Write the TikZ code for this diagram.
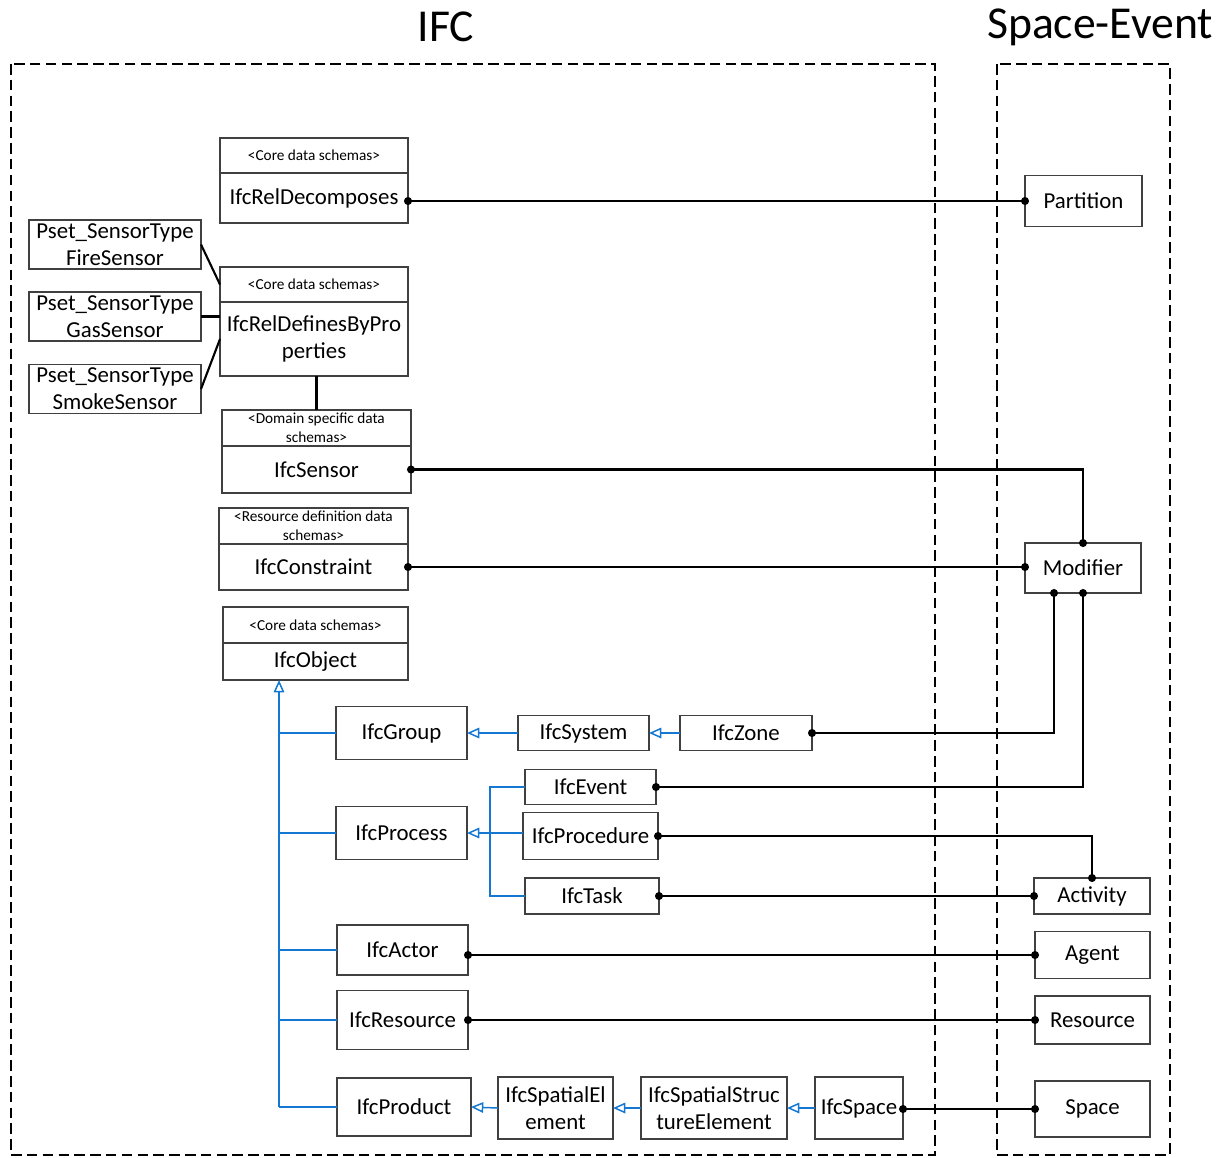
\documentclass[tikz,border=0pt]{standalone}
\usepackage{fontspec}
\setmainfont{Carlito}
\usetikzlibrary{positioning,arrows.meta}
\definecolor{genblue}{RGB}{20,120,210}
\begin{document}
\begin{tikzpicture}[x=0.02cm, y=-0.02cm, sz/.style 2 args={minimum width=#1*0.02cm, minimum height=#2*0.02cm}]
    \tikzstyle{box} = [rectangle, draw=black!75, line width=0.7pt, inner sep=0pt, outer sep=0pt, align=center, font=\fontsize{13}{15.3}\selectfont]
    \tikzstyle{hdr} = [box, font=\fontsize{8.7}{10.8}\selectfont]
    \tikzstyle{title} = [font=\fontsize{26}{30}\selectfont]
    \tikzstyle{frame} = [line width=1.4pt, dash pattern=on 6pt off 3pt]
    \tikzstyle{link} = [line width=1.2pt, {Circle[length=4.5pt]}-{Circle[length=4.5pt]}, shorten <=-2.25pt, shorten >=-2.25pt]
    \tikzstyle{plain} = [line width=1.2pt]
    \tikzstyle{bus} = [genblue, line width=0.85pt]
    \tikzstyle{gen} = [bus, -{Triangle[open, length=7pt, width=6pt]}]

    \useasboundingbox (0,0) rectangle (1226,1157);
    \draw [frame] (11,64) rectangle (935,1155);
    \draw [frame] (997,64) rectangle (1170,1155);
    \node [title] (ifctitle) at (446,27) {IFC};
    \node [title] (setitle) at (1100,27) {Space-Event};

    \node [hdr, sz={188}{35}] (reldech) at (314,155.5) {<Core data schemas>};
    \node [box, sz={188}{50}, below=0pt of reldech] (reldecb) {IfcRelDecomposes};
    \node [hdr, sz={188}{35}] (reldefh) at (314,284.5) {<Core data schemas>};
    \node [box, sz={188}{74}, below=0pt of reldefh] (reldefb) {IfcRelDefinesByPro\\perties};
    \node [hdr, sz={189}{36}] (sensorh) at (316.5,428) {<Domain specific data\\schemas>};
    \node [box, sz={189}{47}, below=0pt of sensorh] (sensorb) {IfcSensor};
    \node [hdr, sz={189}{36}] (constrh) at (313.5,526) {<Resource definition data\\schemas>};
    \node [box, sz={189}{46}, below=0pt of constrh] (constrb) {IfcConstraint};
    \node [hdr, sz={185}{36}] (objecth) at (315.5,625) {<Core data schemas>};
    \node [box, sz={185}{37}, below=0pt of objecth] (objectb) {IfcObject};

    \node [box, sz={172}{49}] (fire) at (115,244.5) {Pset\_SensorType\\FireSensor};
    \node [box, sz={172}{49}] (gas) at (115,316.5) {Pset\_SensorType\\GasSensor};
    \node [box, sz={172}{49}] (smoke) at (115,389) {Pset\_SensorType\\SmokeSensor};

    \node [box, sz={131}{53}] (group) at (401.5,733) {IfcGroup};
    \node [box, sz={131}{35}] (system) at (583.5,733) {IfcSystem};
    \node [box, sz={132}{35}] (zone) at (746,733) {IfcZone};
    \node [box, sz={131}{53}] (process) at (401.5,833) {IfcProcess};
    \node [box, sz={131}{35}] (event) at (590.5,787) {IfcEvent};
    \node [box, sz={135}{47}] (procedure) at (590.5,836) {IfcProcedure};
    \node [box, sz={134}{36}] (task) at (592,896) {IfcTask};
    \node [box, sz={131}{50}] (actor) at (402.5,950) {IfcActor};
    \node [box, sz={131}{59}] (ifcresource) at (402.5,1020) {IfcResource};
    \node [box, sz={134}{58}] (product) at (404,1107) {IfcProduct};
    \node [box, sz={115}{62}] (spatialel) at (555.5,1108) {IfcSpatialEl\\ement};
    \node [box, sz={146}{62}] (spatialstruc) at (714,1108) {IfcSpatialStruc\\tureElement};
    \node [box, sz={88}{62}] (ifcspace) at (859,1108) {IfcSpace};

    \node [box, sz={117}{51}] (partition) at (1083.5,201) {Partition};
    \node [box, sz={116}{50}] (modifier) at (1083,568) {Modifier};
    \node [box, sz={116}{36}] (activity) at (1092,896) {Activity};
    \node [box, sz={115}{47}] (agent) at (1092.5,955) {Agent};
    \node [box, sz={115}{48}] (resource) at (1092.5,1020) {Resource};
    \node [box, sz={115}{56}] (space) at (1092.5,1109) {Space};

    \draw [plain] (fire.east) -- (reldefh.west);
    \draw [plain] (gas.east) -- (gas.east -| reldefb.west);
    \draw [plain] (smoke.east) -- (reldefb.west);
    \draw [plain] (reldefb.south -| sensorh.north) -- (sensorh.north);

    \draw [link] (partition.west -| reldecb.east) -- (partition.west);
    \draw [link] (sensorb.east) -| (modifier.north);
    \draw [link] (constrb.east) -- (constrb.east -| modifier.west);
    \draw [link] (zone.east) -| ([xshift=-0.58cm]modifier.south);
    \draw [link] (event.east) -| (modifier.south);
    \draw [link] (procedure.east) -| (activity.north);
    \draw [link] (task.east) -- (activity.west);
    \draw [link] (actor.east |- agent.west) -- (agent.west);
    \draw [link] (ifcresource.east) -- (resource.west);
    \draw [link] (ifcspace.east |- space.west) -- (space.west);

    \coordinate (trunk) at (279,1107);
    \coordinate (pbus) at (490,833);
    \draw [gen] (trunk) -- (trunk |- objectb.south);
    \foreach \n in {group, process, actor, ifcresource, product}
        \draw [bus] (\n.west) -- (\n.west -| trunk);
    \draw [gen] (system.west) -- (group.east);
    \draw [gen] (zone.west) -- (system.east);
    \draw [bus] (event.west) -| (pbus) |- (task.west);
    \draw [gen] (process.east -| procedure.west) -- (process.east);
    \draw [gen] (spatialel.west) -- (product.east);
    \draw [gen] (spatialstruc.west) -- (spatialel.east);
    \draw [gen] (ifcspace.west) -- (spatialstruc.east);
\end{tikzpicture}
\end{document}
